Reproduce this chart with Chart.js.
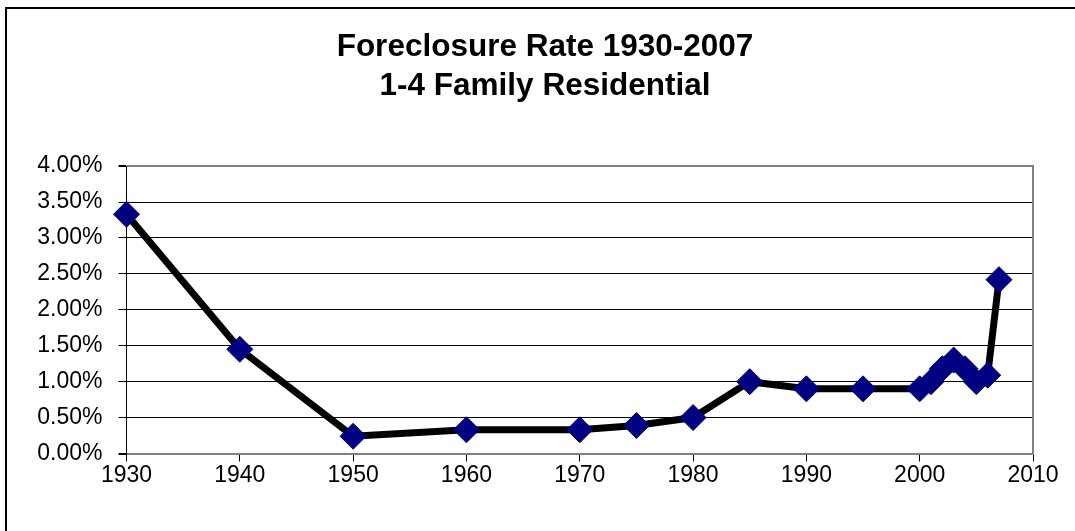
<!DOCTYPE html>
<html>
<head>
<meta charset="utf-8">
<script src="https://cdn.jsdelivr.net/npm/chart.js@4.4.1/dist/chart.umd.min.js"></script>
<style>
  html, body { margin: 0; padding: 0; background: #fff; overflow: hidden; }
  #frame { position: absolute; left: 5px; top: 7px; width: 1100px; height: 600px; border: 2px solid #000; box-sizing: border-box; }
  #wrap { position: absolute; left: 0; top: 0; width: 1075px; height: 531px; }
</style>
</head>
<body>
<div id="frame"></div>
<div id="wrap"><canvas id="c" width="1075" height="531"></canvas></div>
<script>
const years = [1930, 1940, 1950, 1960, 1970, 1975, 1980, 1985, 1990, 1995, 2000, 2001, 2002, 2003, 2004, 2005, 2006, 2007];
const ratePct = [3.33, 1.45, 0.24, 0.33, 0.33, 0.39, 0.50, 1.00, 0.90, 0.90, 0.90, 1.00, 1.18, 1.30, 1.18, 1.00, 1.09, 2.42];
const titleLines = ['Foreclosure Rate 1930-2007', '1-4 Family Residential'];
const xMin = 1930, xMax = 2010, xStep = 10;
const yMin = 0, yMax = 4, yStep = 0.5;

const FONT = "'Liberation Sans', Arial, Helvetica, sans-serif";

new Chart(document.getElementById('c'), {
  type: 'line',
  data: {
    datasets: [{
      data: years.map((y, i) => ({ x: y, y: ratePct[i] })),
      borderColor: '#000000',
      borderWidth: 7,
      tension: 0,
      pointStyle: 'rectRot',
      pointRadius: 13,
      pointHoverRadius: 13,
      pointBackgroundColor: '#000080',
      pointBorderColor: '#000080',
      pointBorderWidth: 1,
      clip: false
    }]
  },
  options: {
    responsive: false,
    animation: false,
    events: [],
    layout: { padding: { left: 15, right: 0, top: 0, bottom: 0 } },
    plugins: {
      legend: { display: false },
      tooltip: { enabled: false },
      title: {
        display: true,
        text: titleLines,
        color: '#000',
        font: { family: FONT, size: 31.5, weight: 'bold', lineHeight: 1.24 },
        padding: { top: 28, bottom: 60 }
      }
    },
    scales: {
      x: {
        type: 'linear',
        min: xMin, max: xMax,
        ticks: {
          stepSize: xStep,
          color: '#000',
          font: { family: FONT, size: 23 },
          padding: 0,
          maxRotation: 0,
          callback: v => String(v)
        },
        grid: { drawOnChartArea: false, drawTicks: true, tickLength: 8, tickColor: '#000', tickWidth: 1 },
        border: { display: true, color: '#808080', width: 2 },
        afterFit: s => { s.height = 77.5; }
      },
      y: {
        type: 'linear',
        min: yMin, max: yMax,
        ticks: {
          stepSize: yStep,
          color: '#000',
          font: { family: FONT, size: 23 },
          padding: 16,
          callback: v => v.toFixed(2) + '%'
        },
        grid: {
          drawOnChartArea: true,
          drawTicks: true,
          tickLength: 8,
          tickColor: '#000',
          color: ctx => (ctx.tick && (ctx.tick.value === yMax || ctx.tick.value === yMin)) ? '#808080' : '#000000',
          lineWidth: ctx => (ctx.tick && (ctx.tick.value === yMax || ctx.tick.value === yMin)) ? 2 : 1
        },
        border: { display: true, color: '#000', width: 1 },
        afterFit: s => { s.width = 111.5; }
      },
      yr: {
        type: 'linear',
        position: 'right',
        min: yMin, max: yMax,
        ticks: { display: false },
        grid: { display: false, drawTicks: false },
        border: { display: true, color: '#808080', width: 2 },
        afterFit: s => { s.width = 42; }
      }
    }
  }
});
</script>
</body>
</html>
